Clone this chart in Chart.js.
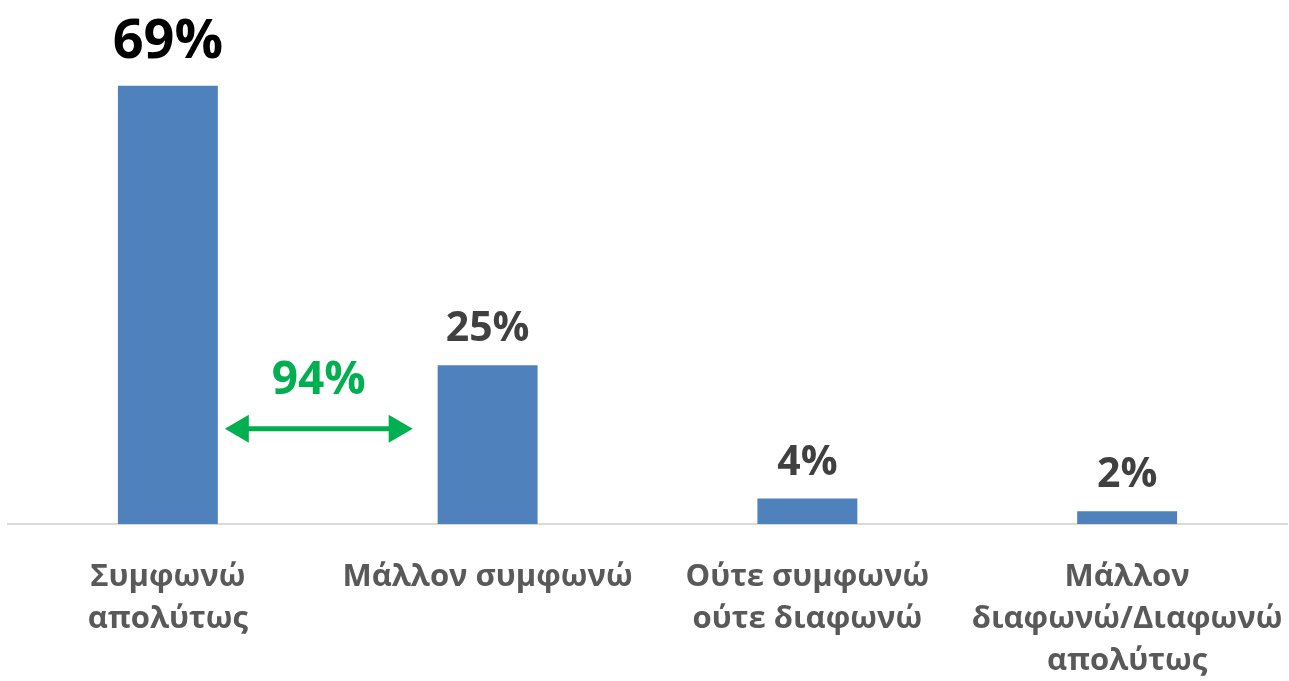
<!DOCTYPE html>
<html lang="el">
<head>
    <meta charset="UTF-8">
    <title>Συμφωνία</title>
    <style>
        * { margin: 0; padding: 0; box-sizing: border-box; }
        body { background: #fff; width: 1289px; height: 681px; overflow: hidden; }
        .wrap { position: relative; width: 1289px; height: 681px; }
    </style>
</head>
<body>
    <div class="wrap">
        <canvas id="agreeChart"></canvas>
    </div>

    <script src="https://cdn.jsdelivr.net/npm/chart.js"></script>
    <script>
        // Δεδομένα
        const categories = [
            ['Συμφωνώ', 'απολύτως'],
            ['Μάλλον συμφωνώ'],
            ['Ούτε συμφωνώ', 'ούτε διαφωνώ'],
            ['Μάλλον', 'διαφωνώ/Διαφωνώ', 'απολύτως']
        ];
        const values = [69, 25, 4, 2];
        const valueLabels = ['69%', '25%', '4%', '2%'];
        const sumLabel = '94%';
        const sumLevel = 15; // ύψος του βέλους στην κλίμακα

        const FONT = "'Open Sans', 'Noto Sans', sans-serif";

        // Ετικέτες τιμών και το πράσινο βέλος
        const labelsPlugin = {
            id: 'labelsPlugin',
            afterDatasetsDraw(chart) {
                const ctx = chart.ctx;
                const meta = chart.getDatasetMeta(0);
                const yScale = chart.scales.y;
                ctx.save();
                ctx.textAlign = 'center';
                ctx.textBaseline = 'alphabetic';
                meta.data.forEach((bar, i) => {
                    if (i === 0) {
                        ctx.font = 'bold 54px ' + FONT;
                        ctx.fillStyle = '#000000';
                        ctx.fillText(valueLabels[i], bar.x, bar.y - 28);
                    } else {
                        ctx.font = 'bold 41px ' + FONT;
                        ctx.fillStyle = '#404040';
                        ctx.fillText(valueLabels[i], bar.x, bar.y - 24);
                    }
                });

                // βέλος ανάμεσα στις δύο πρώτες στήλες
                const b0 = meta.data[0], b1 = meta.data[1];
                const x1 = b0.x + b0.width / 2 + 7;
                const x2 = b1.x - b1.width / 2 - 25;
                const y = yScale.getPixelForValue(sumLevel);
                const green = '#00B050';
                ctx.strokeStyle = green;
                ctx.fillStyle = green;
                ctx.lineWidth = 5;
                ctx.beginPath();
                ctx.moveTo(x1 + 20, y);
                ctx.lineTo(x2 - 20, y);
                ctx.stroke();
                ctx.beginPath();
                ctx.moveTo(x1, y);
                ctx.lineTo(x1 + 24, y - 14);
                ctx.lineTo(x1 + 24, y + 14);
                ctx.closePath();
                ctx.fill();
                ctx.beginPath();
                ctx.moveTo(x2, y);
                ctx.lineTo(x2 - 24, y - 14);
                ctx.lineTo(x2 - 24, y + 14);
                ctx.closePath();
                ctx.fill();

                ctx.font = 'bold 46px ' + FONT;
                ctx.fillText(sumLabel, (x1 + x2) / 2, y - 35);
                ctx.restore();
            }
        };

        const ctx = document.getElementById('agreeChart').getContext('2d');
        new Chart(ctx, {
            type: 'bar',
            data: {
                labels: categories,
                datasets: [{
                    data: values,
                    backgroundColor: '#4F81BD',
                    categoryPercentage: 1,
                    barPercentage: 0.3125
                }]
            },
            options: {
                responsive: true,
                maintainAspectRatio: false,
                animation: false,
                layout: { padding: { top: 16, left: 8, right: 2, bottom: 0 } },
                plugins: {
                    legend: { display: false },
                    tooltip: { enabled: false }
                },
                scales: {
                    y: {
                        display: false,
                        min: 0,
                        max: 80
                    },
                    x: {
                        grid: { display: false },
                        border: { display: true, color: '#d9d9d9', width: 2 },
                        ticks: {
                            color: '#595959',
                            padding: 24,
                            maxRotation: 0,
                            autoSkip: false,
                            font: { family: FONT, size: 31, weight: 'bold', lineHeight: '42px' }
                        },
                        afterFit(scale) {
                            scale.height = 157;
                            scale.paddingLeft = 0;
                            scale.paddingRight = 0;
                        }
                    }
                }
            },
            plugins: [labelsPlugin]
        });
    </script>
</body>
</html>
